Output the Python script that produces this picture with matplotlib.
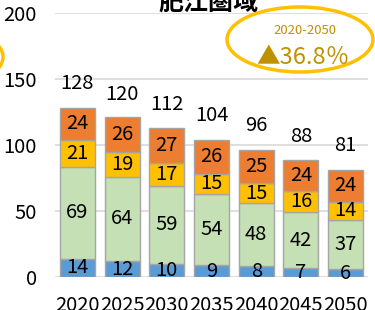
import matplotlib
matplotlib.use("Agg")
from matplotlib import pyplot as plt
from matplotlib.patches import Ellipse
import numpy as np

plt.rcParams['font.family'] = ['Noto Sans CJK JP', 'DejaVu Sans']

# data (per age group segment)
years = ['2020', '2025', '2030', '2035', '2040', '2045', '2050']
age_0_14 = [14, 12, 10, 9, 8, 7, 6]
age_15_64 = [69, 64, 59, 54, 48, 42, 37]
age_65_74 = [21, 19, 17, 15, 15, 16, 14]
age_75_up = [24, 26, 27, 26, 25, 24, 24]
totals = [128, 120, 112, 104, 96, 88, 81]

series = [age_0_14, age_15_64, age_65_74, age_75_up]
colors = ['#5B9BD5', '#C5E0B4', '#FFC000', '#ED7D31']

fig = plt.figure(figsize=(3.75, 3.1), dpi=100)
ax = fig.add_axes([55 / 375, 33 / 310, 313 / 375, 264 / 310])

x = np.arange(len(years))
bottom = np.zeros(len(years))
for vals, col in zip(series, colors):
    ax.bar(x, vals, 0.78, bottom=bottom, color=col,
           edgecolor='#A5A5A5', linewidth=1, zorder=3)
    for xi, b, v in zip(x, bottom, vals):
        ax.text(xi, b + v / 2, str(v), ha='center', va='center',
                fontsize=14.5, color='black', zorder=4)
    bottom += np.array(vals)

for xi, t in zip(x, totals):
    ax.annotate(str(t), (xi, t), xytext=(0, 17.5), textcoords='offset points',
                ha='center', va='center', fontsize=14.5)

ax.set_ylim(0, 200)
ax.set_xlim(-0.5, len(years) - 0.5)
ax.set_yticks([0, 50, 100, 150, 200])
ax.set_xticks(x)
ax.set_xticklabels(years)
ax.tick_params(axis='both', length=0, labelsize=14.5)
ax.tick_params(axis='y', pad=13)
ax.tick_params(axis='x', pad=13)
ax.grid(axis='y', color='#D9D9D9', linewidth=1.2, zorder=0)
for s in ax.spines.values():
    s.set_visible(False)

# title, cut off at top edge as in the original
fig.text(208 / 375, 1 - 15 / 310, '肥江圏域', ha='center', va='bottom',
         fontsize=18, fontweight='bold')

# callout
fig.patches.append(Ellipse((300 / 375, 1 - 39.5 / 310), 146 / 375, 65 / 310,
                           transform=fig.transFigure, fill=False,
                           edgecolor='#FFC000', linewidth=2.5))
fig.patches.append(Ellipse((-70 / 375, 1 - 57 / 310), 146 / 375, 65 / 310,
                           transform=fig.transFigure, fill=False,
                           edgecolor='#FFC000', linewidth=2.5))
fig.text(305 / 375, 1 - 31 / 310, '2020-2050', ha='center', va='center',
         fontsize=9.5, color='#BF9000')
fig.text(303 / 375, 1 - 57 / 310, '▲36.8％', ha='center', va='center',
         fontsize=17, color='#BF9000')

fig.savefig('out.png', dpi=100)
